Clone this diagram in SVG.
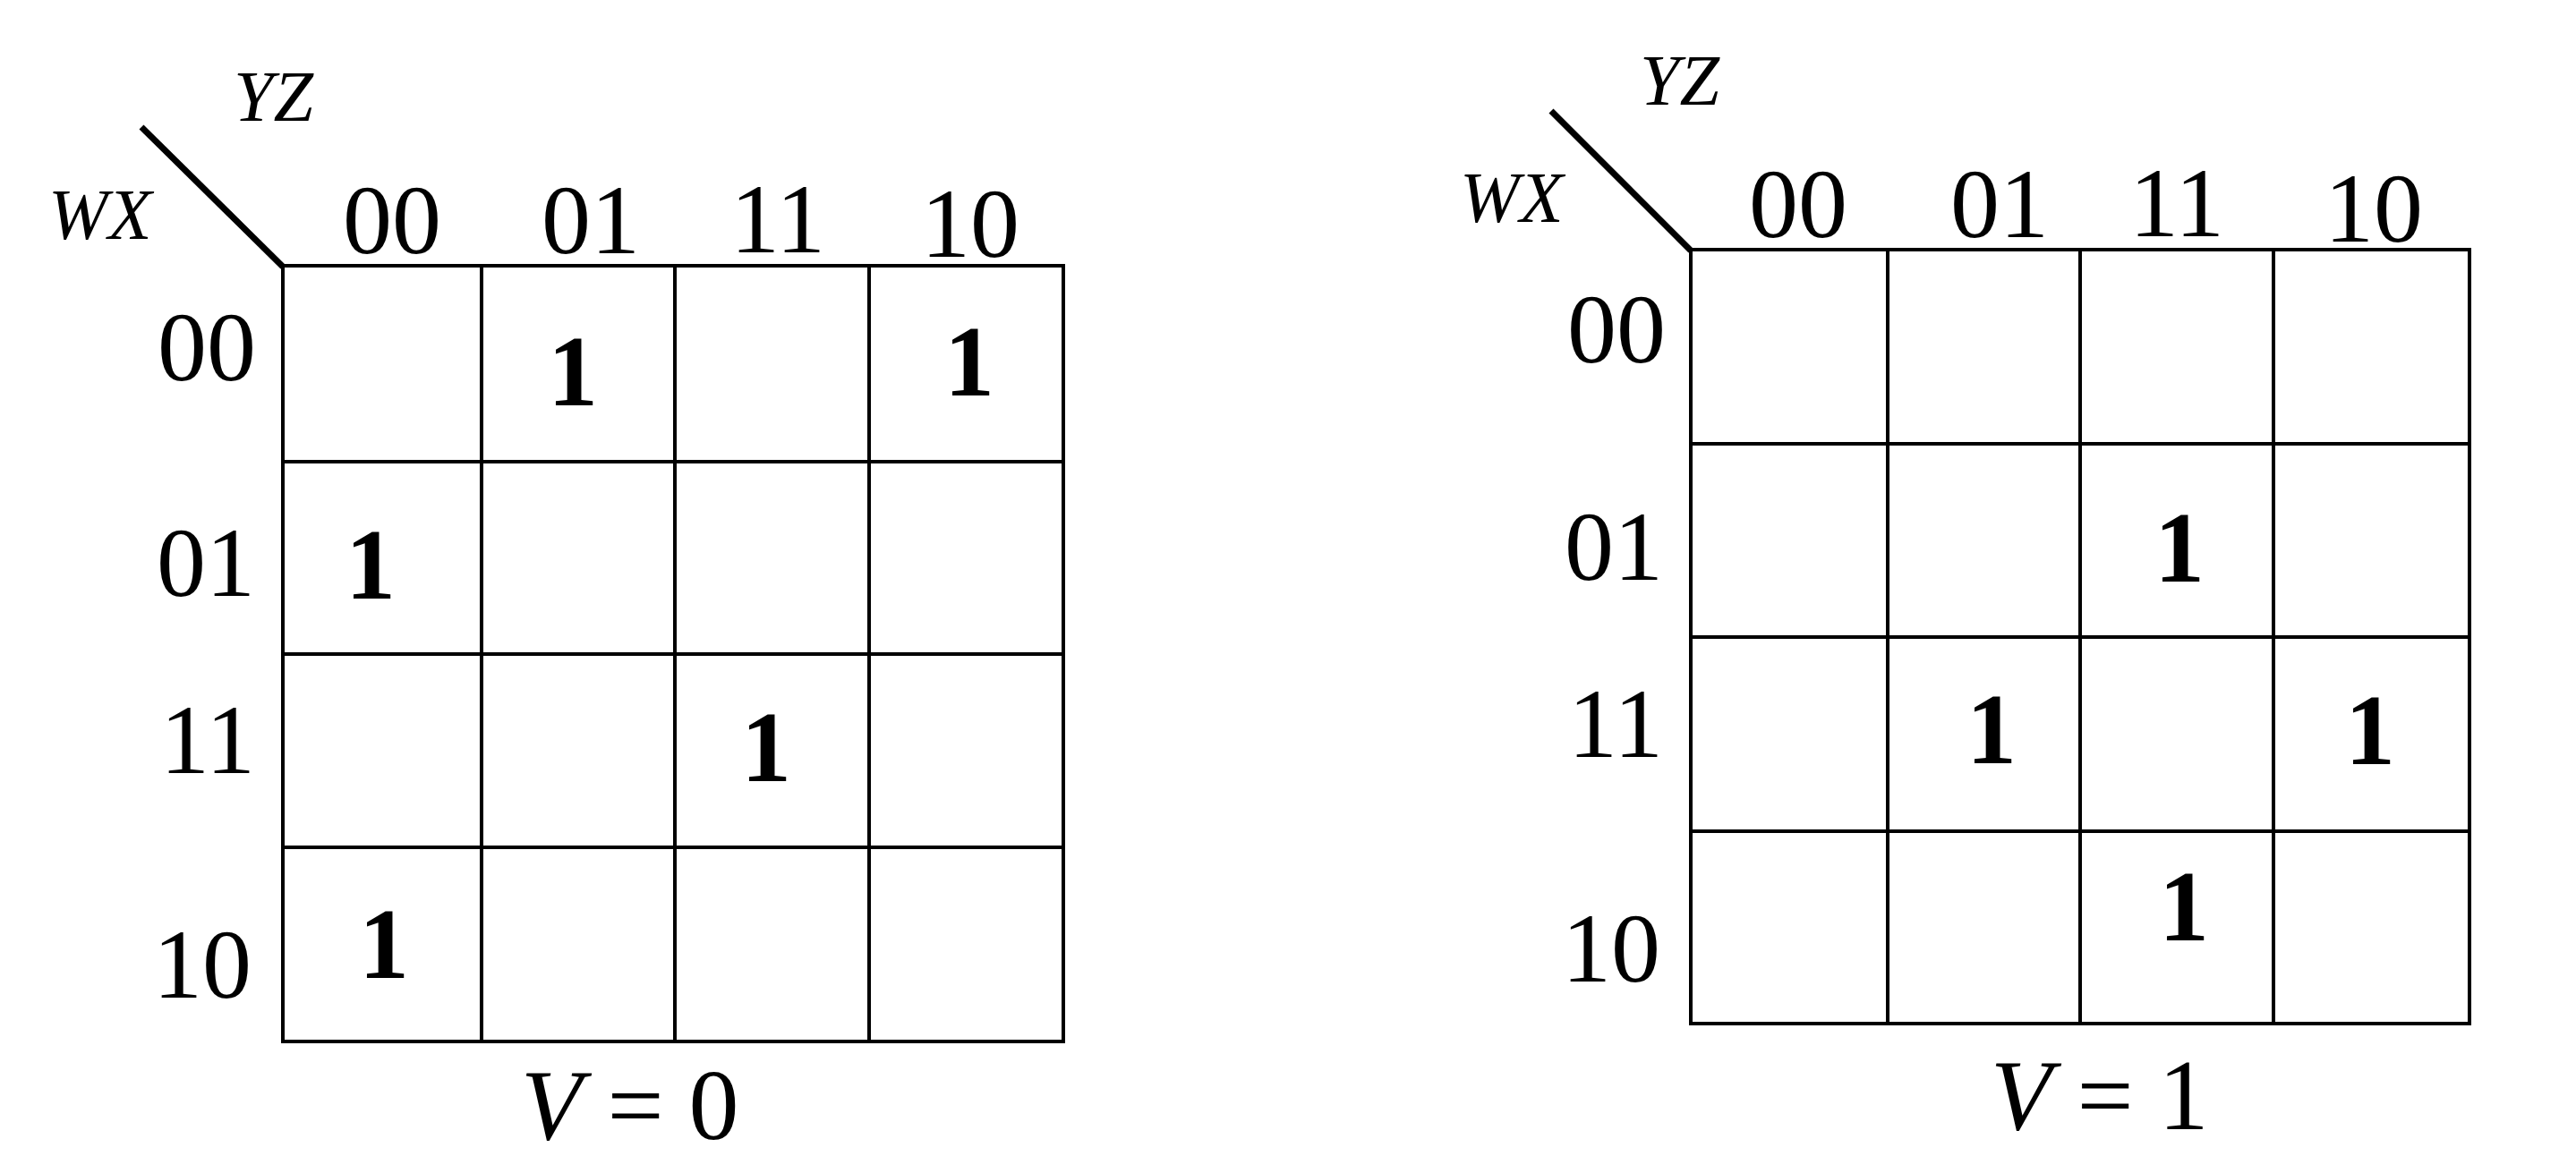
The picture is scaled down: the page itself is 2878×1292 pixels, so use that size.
<svg xmlns="http://www.w3.org/2000/svg" width="2878" height="1292" viewBox="0 0 2878 1292">
<style>
.bg{fill:#ffffff}
.grid{fill:none;stroke:#000;stroke-width:4;stroke-linecap:square}
.diag{stroke:#000;stroke-width:7;stroke-linecap:butt}
.lbl{font-family:"Liberation Serif","Times New Roman",serif;font-size:110px;fill:#000}
.var{font-family:"Liberation Serif","Times New Roman",serif;font-size:80px;font-style:italic;fill:#000}
.one{font-family:"Liberation Serif","Times New Roman",serif;font-size:112px;font-weight:bold;fill:#000;text-anchor:middle}
.cap{font-family:"Liberation Serif","Times New Roman",serif;font-size:112px;fill:#000}
.mid{text-anchor:middle}
.end{text-anchor:end}
</style>
<rect class="bg" x="0" y="0" width="2878" height="1292"/>

<g id="map-v0">
  <g id="map-v0-grid">
    <rect class="grid" x="316" y="297" width="872" height="867"/>
    <line class="grid" x1="538" y1="297" x2="538" y2="1164"/>
    <line class="grid" x1="754" y1="297" x2="754" y2="1164"/>
    <line class="grid" x1="971" y1="297" x2="971" y2="1164"/>
    <line class="grid" x1="316" y1="516" x2="1188" y2="516"/>
    <line class="grid" x1="316" y1="731" x2="1188" y2="731"/>
    <line class="grid" x1="316" y1="947" x2="1188" y2="947"/>
  </g>
  <g id="map-v0-axis">
    <line class="diag" x1="158" y1="142" x2="316" y2="298"/>
    <text class="var" x="261" y="135">YZ</text>
    <text class="var" x="54" y="267">WX</text>
  </g>
  <g id="map-v0-cols">
    <text class="lbl mid" x="438" y="283">00</text>
    <text class="lbl mid" x="660" y="283">01</text>
    <text class="lbl mid" x="869" y="282">11</text>
    <text class="lbl mid" x="1084" y="287">10</text>
  </g>
  <g id="map-v0-rows">
    <text class="lbl end" x="286" y="425">00</text>
    <text class="lbl end" x="285" y="666">01</text>
    <text class="lbl end" x="285" y="864">11</text>
    <text class="lbl end" x="281" y="1115">10</text>
  </g>
  <g id="map-v0-ones">
    <text class="one" x="640" y="453">1</text>
    <text class="one" x="1083" y="442">1</text>
    <text class="one" x="414" y="669">1</text>
    <text class="one" x="856" y="873">1</text>
    <text class="one" x="429" y="1093">1</text>
  </g>
  <text id="map-v0-caption" class="cap" x="582" y="1273"><tspan font-style="italic">V</tspan> = 0</text>
</g>

<g id="map-v1">
  <g id="map-v1-grid">
    <rect class="grid" x="1889" y="279" width="870" height="865"/>
    <line class="grid" x1="2109" y1="279" x2="2109" y2="1144"/>
    <line class="grid" x1="2324" y1="279" x2="2324" y2="1144"/>
    <line class="grid" x1="2540" y1="279" x2="2540" y2="1144"/>
    <line class="grid" x1="1889" y1="496" x2="2759" y2="496"/>
    <line class="grid" x1="1889" y1="712" x2="2759" y2="712"/>
    <line class="grid" x1="1889" y1="929" x2="2759" y2="929"/>
  </g>
  <g id="map-v1-axis">
    <line class="diag" x1="1733" y1="124" x2="1889" y2="280"/>
    <text class="var" x="1832" y="117">YZ</text>
    <text class="var" x="1631" y="248">WX</text>
  </g>
  <g id="map-v1-cols">
    <text class="lbl mid" x="2009" y="265">00</text>
    <text class="lbl mid" x="2234" y="265">01</text>
    <text class="lbl mid" x="2432" y="264">11</text>
    <text class="lbl mid" x="2652" y="270">10</text>
  </g>
  <g id="map-v1-rows">
    <text class="lbl end" x="1861" y="405">00</text>
    <text class="lbl end" x="1858" y="648">01</text>
    <text class="lbl end" x="1858" y="846">11</text>
    <text class="lbl end" x="1855" y="1097">10</text>
  </g>
  <g id="map-v1-ones">
    <text class="one" x="2435" y="650">1</text>
    <text class="one" x="2225" y="853">1</text>
    <text class="one" x="2648" y="854">1</text>
    <text class="one" x="2440" y="1051">1</text>
  </g>
  <text id="map-v1-caption" class="cap" x="2224" y="1262"><tspan font-style="italic">V</tspan> = 1</text>
</g>
</svg>
